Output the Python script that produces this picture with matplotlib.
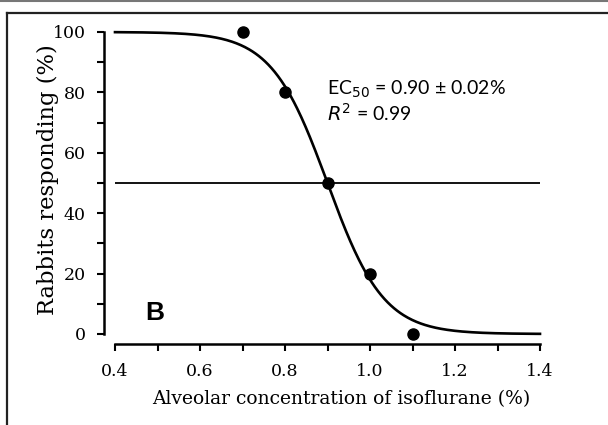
import numpy as np
import matplotlib
matplotlib.use("Agg")
import matplotlib.pyplot as plt
from matplotlib.lines import Line2D
from matplotlib.ticker import MultipleLocator, FormatStrFormatter

# data
conc = [0.7, 0.8, 0.9, 1.0, 1.1]
responding = [100, 80, 50, 20, 0]
ec50 = 0.90
slope = 0.066
x_ticks = [0.4, 0.6, 0.8, 1.0, 1.2, 1.4]
y_ticks = [0, 20, 40, 60, 80, 100]

serif = "DejaVu Serif"
plt.rcParams["font.family"] = serif
plt.rcParams["font.size"] = 12
plt.rcParams["xtick.labelsize"] = 12.5
plt.rcParams["ytick.labelsize"] = 12.5

W, H = 608, 425
fig = plt.figure(figsize=(W / 100, H / 100), dpi=100)
ax = fig.add_axes([115 / W, (H - 334) / H, (540 - 115) / W, (334 - 32) / H])

xs = np.linspace(0.4, 1.4, 400)
ys = 100 / (1 + np.exp((xs - ec50) / slope))
ax.plot(xs, ys, color="black", lw=1.9, clip_on=False)
ax.axhline(50, color="black", lw=1.3)
ax.plot(conc, responding, "o", color="black", ms=8, clip_on=False, zorder=5)

ax.set_xlim(0.4, 1.4)
ax.set_ylim(0, 100)
ax.set_xticks(x_ticks)
ax.set_yticks(y_ticks)
ax.xaxis.set_major_formatter(FormatStrFormatter("%.1f"))
ax.xaxis.set_minor_locator(MultipleLocator(0.1))
ax.yaxis.set_minor_locator(MultipleLocator(10))
ax.tick_params(which="both", direction="out", length=5, width=1.5)
ax.tick_params(axis="y", which="major", pad=8)
ax.tick_params(axis="x", which="major", pad=9)

for s in ["top", "right"]:
    ax.spines[s].set_visible(False)
ax.spines["left"].set_position(("outward", 8))
ax.spines["bottom"].set_position(("outward", 7))
for s in ["left", "bottom"]:
    ax.spines[s].set_linewidth(1.8)

ax.set_xlabel("Alveolar concentration of isoflurane (%)", fontsize=13.5, va="center")
ax.set_ylabel("Rabbits responding (%)", fontsize=16.3, va="center")
ax.xaxis.set_label_coords(0.532, -0.217)
ax.yaxis.set_label_coords(-0.158, 0.51)

ax.text(0.899, 81.0, r"EC$_{50}$ = 0.90 ± 0.02%", family="Lato", fontsize=14, va="center", ha="left")
ax.text(0.899, 73.2, r"$R^2$ = 0.99", family="Lato", fontsize=14, va="center", ha="left")
ax.text(0.471, 7.0, "B", family="Liberation Sans", fontweight="bold", fontsize=19, va="center", ha="left")

# frame around the panel
fig.add_artist(Line2D([7 / W, 1], [1 - 12.5 / H, 1 - 12.5 / H], color="#222222", lw=1.6, transform=fig.transFigure))
fig.add_artist(Line2D([7 / W, 7 / W], [0, 1 - 12.5 / H], color="#222222", lw=1.6, transform=fig.transFigure))
fig.add_artist(Line2D([0, 1], [1 - 0.5 / H, 1 - 0.5 / H], color="#777777", lw=1.5, transform=fig.transFigure))

fig.savefig("out.png", dpi=100)
